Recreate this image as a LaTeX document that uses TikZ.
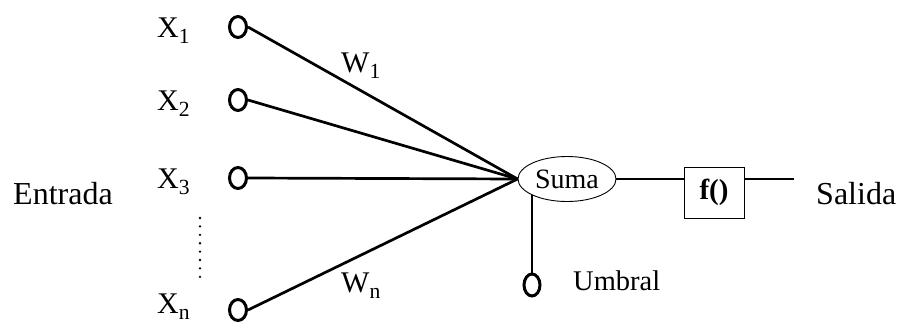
\documentclass[tikz,border=0pt]{standalone}
\usepackage{fontspec}
\setmainfont{Liberation Serif}
\usepackage{graphicx}
\usepackage{tikz}
\usetikzlibrary{shapes.geometric,calc,positioning}
\newcommand{\subidx}[1]{\raisebox{-0.22em}{\scalebox{0.72}{#1}}}

\begin{document}
\begin{tikzpicture}[x=1pt, y=-1pt,
  inp/.style={draw, ellipse, line width=3pt, minimum width=17pt, minimum height=21pt, inner sep=0pt},
  lbl/.style={font=\fontsize{30}{33}\selectfont, inner sep=0pt, anchor=base west},
  big/.style={font=\fontsize{32}{36}\selectfont, inner sep=0pt, anchor=base west},
  wire/.style={line width=2.7pt}]
\useasboundingbox (0,0) rectangle (899,324);

% --- entradas ---
\node[big] (entrada) at (13,204) {Entrada};
\foreach \n/\y/\s/\b in {1/27/1/37, 2/100/2/110, 3/178/3/188, n/310/n/313}{
  \node[inp] (in\n) at (238,\y) {};
  \node[lbl] (x\n) at (157,\b) {X\subidx{\s}};
}
\foreach \d in {0,...,7}{
  \fill (200,218+\d*8.4) circle (1.3pt);
}

% --- suma y pesos ---
\node[draw, ellipse, line width=0.9pt, minimum width=98pt, minimum height=45pt, inner sep=0pt,
  font=\fontsize{28}{30}\selectfont] (suma) at (567,179) {Suma};
\foreach \n in {1,2,3,n}{
  \draw[wire] (in\n.east) -- (suma.west);
}
\node[lbl] (w1) at (341,72) {W\subidx{1}};
\node[lbl] (wn) at (341,292) {W\subidx{n}};

% --- umbral ---
\node[inp, minimum width=16pt, minimum height=22pt] (umb) at (532,285) {};
\draw[wire] (suma.205) -- (suma.205 |- umb.north);
\node[font=\fontsize{28.5}{30}\selectfont, inner sep=0pt, anchor=base west] (umbral) at (573,290) {Umbral};

% --- funcion de activacion y salida ---
\node[draw, line width=0.9pt, minimum width=60pt, minimum height=51pt, inner sep=0pt,
  font=\fontsize{29}{30}\selectfont\bfseries] (fbox) at (714,192.5) {f()};
\coordinate (fin) at (794,179);
\draw[wire] (suma.east) -- (suma.east -| fbox.west);
\draw[wire] (fbox.east |- fin) -- (fin);
\node[big] (salida) at (816,204) {Salida};
\end{tikzpicture}
\end{document}
